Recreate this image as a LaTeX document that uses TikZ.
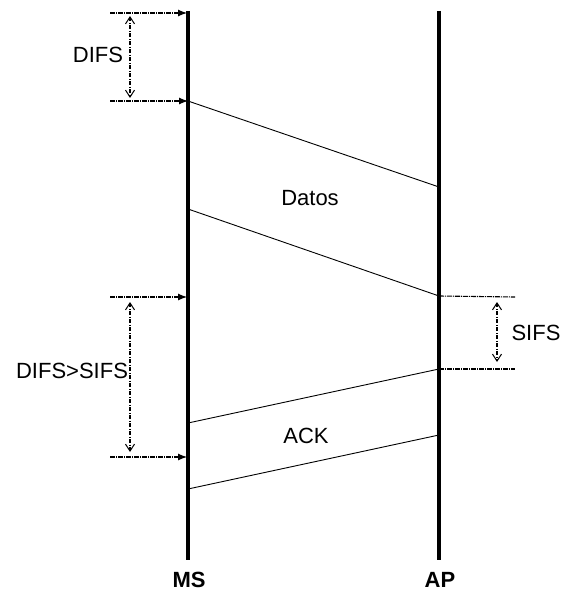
\documentclass[tikz,border=0pt]{standalone}
\usepackage{fontspec}
\setmainfont{Liberation Sans}
\usetikzlibrary{arrows.meta}

\begin{document}
\begin{tikzpicture}[x=1pt,y=-1pt,
  station/.style={black, line width=4pt},
  msg/.style={black, line width=0.9pt},
  mark line/.style={black, line width=1.1pt, dash pattern=on 5pt off 1pt on 1pt off 1pt},
  gap/.style={black, line width=1.1pt, dash pattern=on 4pt off 1.5pt on 1pt off 1.5pt,
    {Straight Barb[length=7pt,width=9pt,line width=1pt]}-{Straight Barb[length=7pt,width=9pt,line width=1pt]}},
  lbl/.style={font=\fontsize{22}{24}\selectfont, inner sep=0pt}]

\useasboundingbox (0,0) rectangle (562,599);

% the two stations
\coordinate (ms top) at (188,11);
\coordinate (ms bot) at (188,560);
\coordinate (ap top) at (439,11);
\coordinate (ap bot) at (439,560);
\draw[station] (ms top) -- (ms bot);
\draw[station, line width=3.5pt] (ap top) -- (ap bot);
\node[lbl, font=\bfseries\fontsize{22}{24}\selectfont] (ms) at (189,580) {MS};
\node[lbl, font=\bfseries\fontsize{22}{24}\selectfont] (ap) at (440,580) {AP};

% data frame
\coordinate (d1) at (188,101);
\coordinate (d2) at (439,187);
\coordinate (d3) at (188,209);
\coordinate (d4) at (439,296);
\draw[msg] (d1) -- (d2);
\draw[msg] (d3) -- (d4);
\node[lbl] (datos) at (310,198) {Datos};

% ack frame
\coordinate (a1) at (188,423);
\coordinate (a2) at (439,369);
\coordinate (a3) at (188,489);
\coordinate (a4) at (439,435);
\draw[msg] (a1) -- (a2);
\draw[msg] (a3) -- (a4);
\node[lbl] (ack) at (306,436) {ACK};

% marks at MS
\coordinate (m1) at (110,13);
\coordinate (m2) at (110,101);
\coordinate (m3) at (110,297);
\coordinate (m4) at (110,457);
\coordinate (t1) at (187,13);
\coordinate (t3) at (187,297);
\coordinate (t4) at (187,457);
\draw[mark line, -{Latex[length=9pt,width=7pt]}] (m1) -- (t1);
\draw[mark line, -{Latex[length=9pt,width=7pt]}] (m2) -- (d1);
\draw[mark line, -{Latex[length=9pt,width=7pt]}] (m3) -- (t3);
\draw[mark line, -{Latex[length=9pt,width=7pt]}] (m4) -- (t4);

% marks at AP
\coordinate (s1) at (515,297);
\coordinate (s2) at (515,369);
\draw[mark line] (d4) -- (s1);
\draw[mark line] (a2) -- (s2);

% intervals
\coordinate (g1) at (130,16);
\coordinate (g2) at (130,98);
\draw[gap] (g1) -- (g2);
\node[lbl] (difs) at (98,55) {DIFS};

\coordinate (g3) at (130,302);
\coordinate (g4) at (130,452);
\draw[gap] (g3) -- (g4);
\node[lbl] (difssifs) at (72,371) {DIFS>SIFS};

\coordinate (g5) at (497,302);
\coordinate (g6) at (497,362);
\draw[gap] (g5) -- (g6);
\node[lbl] (sifs) at (536,333) {SIFS};
\end{tikzpicture}
\end{document}
